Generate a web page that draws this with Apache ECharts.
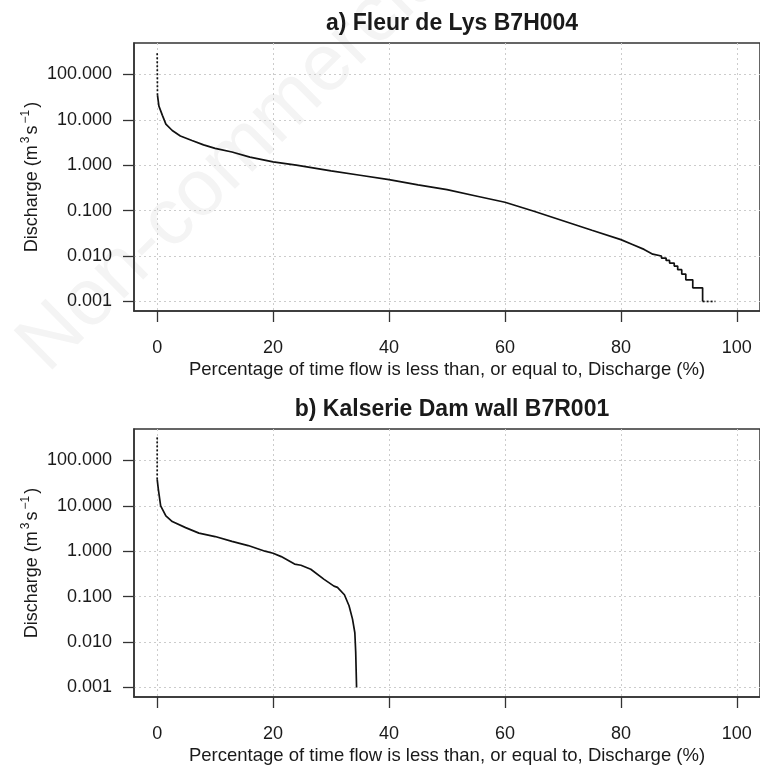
<!DOCTYPE html>
<html lang="en">
<head>
  <meta charset="UTF-8">
  <title>Flow duration curves</title>
  <script src="https://cdn.jsdelivr.net/npm/echarts@6/dist/echarts.min.js"></script>
  <style>
    html, body { margin: 0; padding: 0; background: #fff; }
  </style>
</head>
<body>
  <div id="main" style="width:760px; height:767px;"></div>
  <script>
    // a) Fleur de Lys B7H004 - percentage of time vs discharge (m3/s)
    var pctA  = [0.05, 0.3, 0.9, 1.5, 2.6, 4, 6, 8, 10, 12.9, 16, 20, 24, 30, 35, 40, 45, 50, 55, 60,
                 65, 70, 75, 80, 82, 84, 85.5, 87, 87, 87.8, 87.8, 88.4, 88.4, 89.2, 89.2, 89.8, 89.8,
                 90.5, 90.5, 91.2, 91.2, 92.4, 92.4, 94.1, 94.1];
    var flowA = [35, 20, 12.5, 8, 5.8, 4.4, 3.5, 2.8, 2.35, 1.95, 1.5, 1.18, 1.0, 0.75, 0.6, 0.48, 0.37, 0.29, 0.21, 0.153,
                 0.097, 0.06, 0.037, 0.023, 0.018, 0.014, 0.011, 0.01, 0.009, 0.009, 0.008, 0.008, 0.007, 0.007, 0.006, 0.006, 0.005,
                 0.005, 0.004, 0.004, 0.003, 0.003, 0.002, 0.002, 0.001];
    // sparse parts drawn dotted (high flows at 0 %, lowest flows at the tail)
    var peakPctA = [0, 0.05];
    var peakFlowA = [290, 35];
    var tailPctA = [94.1, 96.3];
    var tailFlowA = [0.001, 0.001];

    // b) Kalserie Dam wall B7R001
    var pctB  = [0, 0.2, 0.6, 1.5, 2.6, 4.9, 7.2, 10, 12.9, 15.7, 18.6, 20, 21.4, 23.7, 24.8, 26.5,
                 28.8, 30.5, 31.1, 32.3, 33.1, 33.7, 34.1, 34.25, 34.4];
    var flowB = [38, 23, 10, 6, 4.5, 3.3, 2.5, 2.1, 1.65, 1.33, 1.0, 0.9, 0.76, 0.52, 0.49, 0.40,
                 0.24, 0.17, 0.16, 0.11, 0.063, 0.032, 0.016, 0.006, 0.001];
    var peakPctB = [0, 0];
    var peakFlowB = [320, 38];

    var xTicks = [0, 20, 40, 60, 80, 100];
    var yTicks = [0.001, 0.01, 0.1, 1, 10, 100];

    var font = '"Liberation Sans", Arial, Helvetica, sans-serif';
    var ink = '#1a1a1a';

    function pairs(xs, ys) {
      var out = [];
      for (var i = 0; i < xs.length; i++) out.push([xs[i], Math.log10(ys[i])]);
      return out;
    }
    var yTickLogs = yTicks.map(function (v) { return Math.log10(v); });

    function xAxisFor(idx) {
      return {
        type: 'value', gridIndex: idx, min: -4, max: 104,
        name: 'Percentage of time flow is less than, or equal to, Discharge (%)',
        nameLocation: 'middle', nameGap: 49, nameMoveOverlap: false,
        nameTextStyle: { fontFamily: font, fontSize: 18.5, color: ink },
        axisLine: { show: true, onZero: false, lineStyle: { color: '#333', width: 1.5 } },
        axisTick: { show: true, length: 11, customValues: xTicks, lineStyle: { color: '#333', width: 1.3 } },
        axisLabel: { customValues: xTicks, margin: 28, fontFamily: font, fontSize: 18, color: ink },
        splitLine: { show: true, lineStyle: { color: '#cccccc', type: [2, 3], width: 1 } }
      };
    }
    function yAxisFor(idx) {
      return {
        type: 'value', gridIndex: idx, min: -3.21, max: 2.69,
        name: 'Discharge (m{sup|3}s{sup|\u22121})',
        nameLocation: 'middle', nameGap: 90, nameMoveOverlap: false,
        nameTextStyle: {
          fontFamily: font, fontSize: 18, color: ink, lineHeight: 24, verticalAlign: 'bottom',
          rich: { sup: { fontFamily: font, fontSize: 12, color: ink, lineHeight: 24, verticalAlign: 'top', padding: [0, 2, 0, 2] } }
        },
        axisLine: { show: true, onZero: false, lineStyle: { color: '#333', width: 1.5 } },
        axisTick: { show: true, length: 11, customValues: yTickLogs, lineStyle: { color: '#333', width: 1.3 } },
        axisLabel: {
          customValues: yTickLogs, margin: 22, fontFamily: font, fontSize: 18, color: ink,
          formatter: function (v) { return Math.pow(10, v).toFixed(3); }
        },
        splitLine: { show: true, lineStyle: { color: '#cccccc', type: [2, 3], width: 1 } }
      };
    }
    function line(idx, data, dotted) {
      return {
        type: 'line', xAxisIndex: idx, yAxisIndex: idx, data: data,
        showSymbol: false, symbol: 'none', silent: true, animation: false,
        lineStyle: { color: '#111', width: 1.7, type: dotted ? [2, 2] : 'solid' }
      };
    }

    var chart = echarts.init(document.getElementById('main'));
    var option = {
      backgroundColor: '#fff',
      animation: false,
      title: [
        { text: 'a) Fleur de Lys B7H004', left: 447, top: 7, textAlign: 'center',
          textStyle: { fontFamily: font, fontSize: 23, fontWeight: 'bold', color: ink } },
        { text: 'b) Kalserie Dam wall B7R001', left: 447, top: 393, textAlign: 'center',
          textStyle: { fontFamily: font, fontSize: 23, fontWeight: 'bold', color: ink } }
      ],
      graphic: [{
        type: 'text', z: -10, silent: true,
        x: 4, y: 330, rotation: 0.78,
        style: { text: 'Non-commercial', fill: '#f4f4f4', font: '80px ' + font }
      }],
      grid: [
        { left: 134, top: 43, right: -6, height: 268, show: true, borderColor: '#333', borderWidth: 1.5, backgroundColor: 'transparent' },
        { left: 134, top: 429, right: -6, height: 268, show: true, borderColor: '#333', borderWidth: 1.5, backgroundColor: 'transparent' }
      ],
      xAxis: [xAxisFor(0), xAxisFor(1)],
      yAxis: [yAxisFor(0), yAxisFor(1)],
      series: [
        line(0, pairs(pctA, flowA), false),
        line(0, pairs(peakPctA, peakFlowA), true),
        line(0, pairs(tailPctA, tailFlowA), true),
        line(1, pairs(pctB, flowB), false),
        line(1, pairs(peakPctB, peakFlowB), true)
      ]
    };
    chart.setOption(option);
  </script>
</body>
</html>
